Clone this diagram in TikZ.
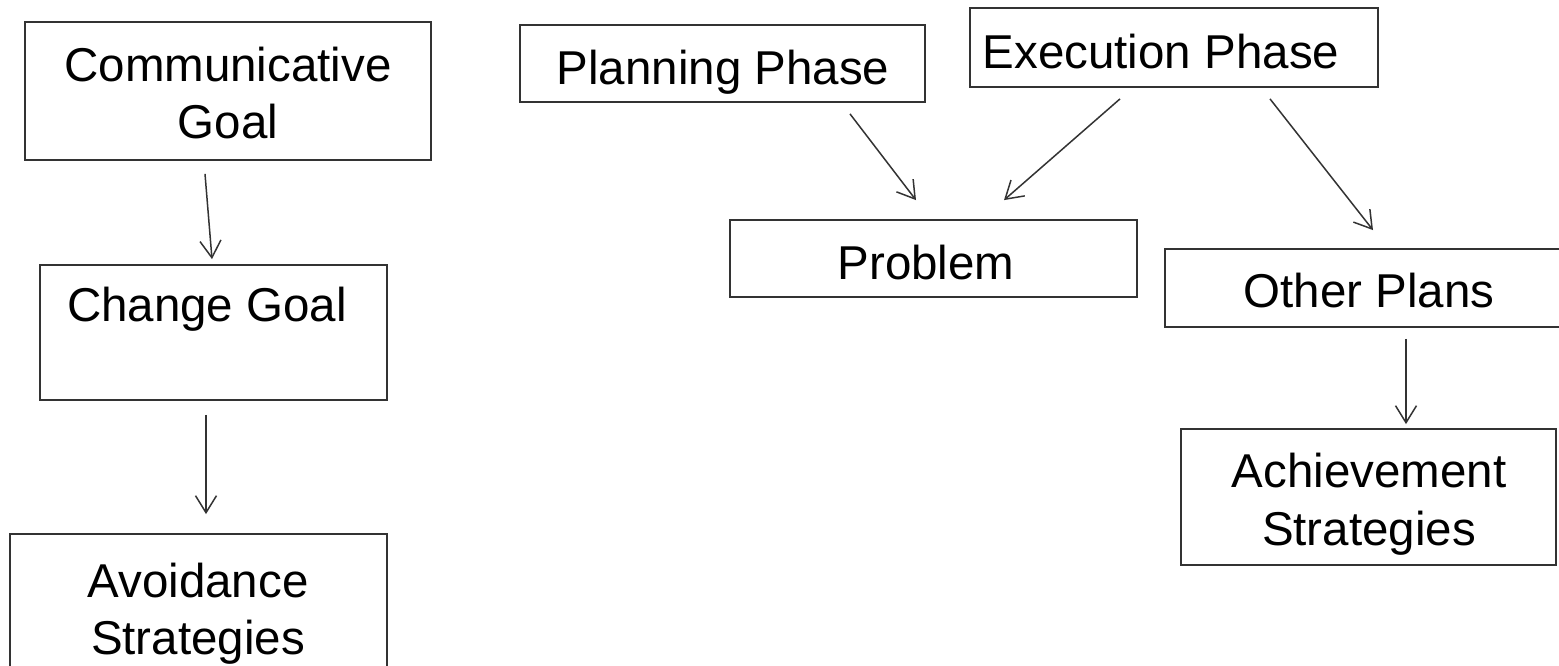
\documentclass[tikz,border=0pt]{standalone}
\usepackage{fontspec}
\setmainfont{Liberation Sans}
\usetikzlibrary{arrows.meta,calc}
\tikzset{
  box/.style={draw=black!80, line width=1.8pt, inner sep=0pt, rectangle},
  lbl/.style={anchor=base, inner sep=0pt, font=\fontsize{47.5}{57}\selectfont, text=black},
  conn/.style={draw=black!80, line width=1.5pt, -{Straight Barb[length=17pt,width=21pt,line width=1.5pt]}}
}
\begin{document}
\begin{tikzpicture}[x=1pt,y=-1pt]
\useasboundingbox (0,0) rectangle (1559,666);
\clip (0,0) rectangle (1559,666);
\fill[white] (0,0) rectangle (1559,666);
% boxes
\node[box, minimum width=406pt, minimum height=138pt] (comm) at (228,91) {};
\node[box, minimum width=347pt, minimum height=135pt] (change) at (213.5,332.5) {};
\node[box, minimum width=377pt, minimum height=166pt] (avoid) at (198.5,617) {};
\node[box, minimum width=405pt, minimum height=77pt] (plan) at (722.5,63.5) {};
\node[box, minimum width=408pt, minimum height=79pt] (exec) at (1174,47.5) {};
\node[box, minimum width=407pt, minimum height=77pt] (prob) at (933.5,258.5) {};
\node[box, minimum width=435pt, minimum height=78pt] (other) at (1382.5,288) {};
\node[box, minimum width=375pt, minimum height=136pt] (ach) at (1368.5,497) {};
% texts
\node[lbl] (commA) at (228,82) {Communicative};
\node[lbl] (commB) at (228,139) {Goal};
\node[lbl] (changeA) at (207,321) {Change Goal};
\node[lbl] (avoidA) at (198,597) {Avoidance};
\node[lbl] (avoidB) at (198,654) {Strategies};
\node[lbl] (planA) at (723,85) {Planning Phase};
\node[lbl] (execA) at (1161,69) {Execution Phase};
\node[lbl] (probA) at (926,279) {Problem};
\node[lbl] (otherA) at (1369,307) {Other Plans};
\node[lbl] (achA) at (1369,487) {Achievement};
\node[lbl] (achB) at (1369,545) {Strategies};
% connectors
\draw[conn] ($(comm.south)+(-23,13)$) -- ($(change.north)+(-1.5,-5)$);
\draw[conn] ($(change.south)+(-7.5,14)$) -- ($(avoid.north)+(7.5,-19)$);
\draw[conn] ($(plan.south)+(127.5,11)$) -- ($(prob.north)+(-17.5,-19)$);
\draw[conn] ($(exec.south)+(-54,11)$) -- ($(prob.north)+(70.5,-19)$);
\draw[conn] ($(exec.south)+(96,11)$) -- ($(other.north)+(-9.5,-18)$);
\draw[conn] ($(other.south)+(23.5,11)$) -- ($(ach.north)+(37.5,-4)$);
\end{tikzpicture}
\end{document}
